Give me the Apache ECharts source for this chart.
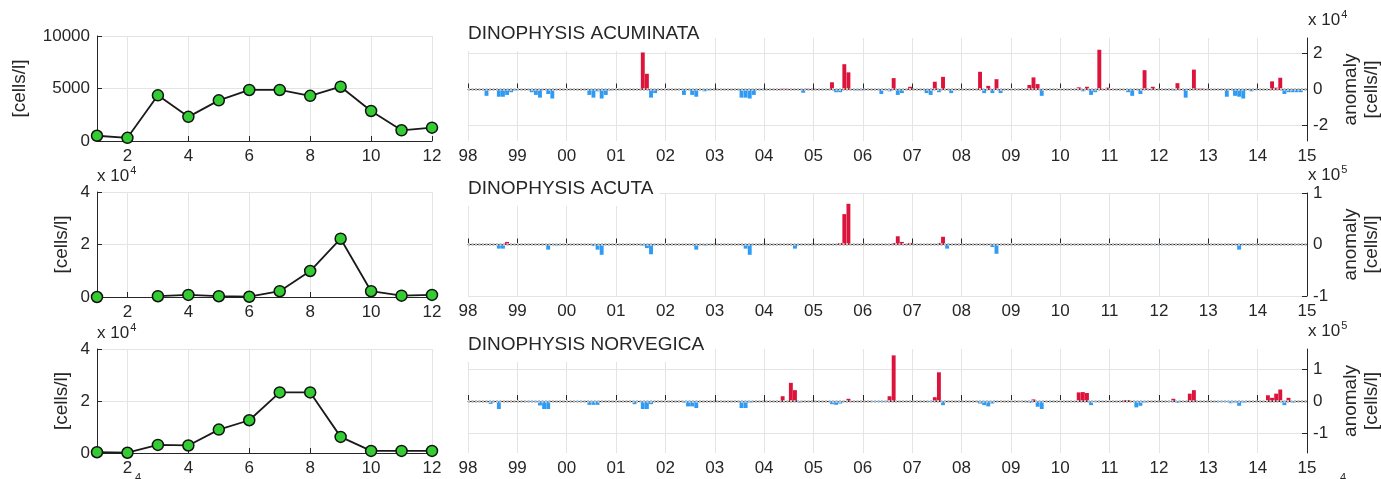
<!DOCTYPE html>
<html>
<head>
<meta charset="utf-8">
<title>Dinophysis climatology and anomalies</title>
<script src="https://cdn.jsdelivr.net/npm/echarts@6/dist/echarts.min.js"></script>
<style>
  html, body { margin: 0; padding: 0; background: #fff; }
  #chart { width: 1381px; height: 479px; }
</style>
</head>
<body>
<div id="chart"></div>
<script>
// ---- Data -------------------------------------------------------------
const MONTHS = ['1', '2', '3', '4', '5', '6', '7', '8', '9', '10', '11', '12'];
const SPECIES = ['DINOPHYSIS ACUMINATA', 'DINOPHYSIS ACUTA', 'DINOPHYSIS NORVEGICA'];
const FIRST_YEAR = 1998;
const LAST_YEAR = 2015;

// Monthly climatology [cells/l]
const climAcuminata = [500, 300, 4350, 2300, 3870, 4860, 4860, 4300, 5170, 2860, 1020, 1270];
const climAcuta = [0, '-', 300, 800, 300, 100, 2200, 9900, 22200, 2200, 500, 800];
const climNorvegica = [300, 100, 3100, 2900, 9000, 12600, 23300, 23300, 6200, 800, 800, 800];

// Monthly anomalies [cells/l], Jan 1998 .. Dec 2014, one row per year
const anomAcuminata = [
  0, 0, 0, 0, -3500, 0, 0, -4000, -4000, -3000, -1500, -500,
  0, 0, 0, -1500, -3000, -4500, 0, -2500, -5000, 0, 0, 0,
  0, 0, 0, 0, 0, -3000, -4500, -1000, -5000, -3000, -500, 0,
  0, 0, 0, 0, 0, 0, 20500, 8700, -4500, -2000, 0, 0,
  0, 0, 0, 0, -3000, 0, -3000, -4000, 0, -1000, -500, 0,
  0, 0, 0, 0, 0, 0, -4500, -4500, -5000, -3000, 0, 0,
  0, 0, 0, 0, 400, 400, 0, 0, 0, -1800, 400, 0,
  0, 0, 0, 0, 4000, -1500, -1500, 14000, 9500, 0, -500, -500,
  0, 0, 0, 0, -2500, 0, -1000, 6300, -3000, -2000, 0, 1500,
  0, 0, 0, -2000, -3000, 4300, -1500, 7000, 0, -2000, 0, 0,
  0, 0, 0, 0, 9800, -2000, 2000, -2000, 5700, -2000, 0, 0,
  0, -200, 0, 0, 2500, 6700, 3000, -3500, 0, 0, 0, 0,
  0, 0, 0, 0, 1200, -1000, 1500, -3000, -1500, 22000, 0, 1000,
  0, 0, 0, 0, -1500, -3500, 0, -2500, 10700, 0, 1500, 0,
  0, 0, 0, -500, 3500, 0, -4500, 0, 11000, 500, 500, 0,
  0, 0, 0, 0, -4000, 0, -3500, -4000, -5000, 0, -1000, 0,
  0, 0, 0, 4500, 1000, 6500, -2500, -1500, -1500, -1500, -1500, 0
];
const anomAcuta = [
  0, 0, 0, 0, 0, 0, 0, -8000, -8000, 5000, 0, 0,
  0, 0, 0, 0, 0, 0, 0, -10000, 0, -2000, 0, 0,
  0, 0, 0, 0, 0, 0, -3000, -10000, -20000, 0, 0, 0,
  0, 0, 0, 0, 0, 0, -2000, -7000, -19000, 0, 0, 0,
  0, 0, 0, 0, 0, 0, 0, -10000, 0, -2000, 0, 0,
  0, 0, 0, 0, 0, 0, 0, -8000, -20000, 0, 0, 0,
  0, 0, 0, 0, 0, 0, 0, -8000, 0, 0, 0, 0,
  0, 0, 0, 0, 0, 0, 3000, 59000, 79000, 0, 0, 0,
  0, 0, 0, 0, 0, 0, 0, 3000, 16000, 5000, 0, 3000,
  0, 0, 0, 0, 0, 0, 3000, 15000, -8000, 0, 0, 0,
  0, 0, 0, 0, 0, 0, 0, -5000, -18000, 0, 0, 0,
  0, 0, 0, 0, 0, 0, 0, 0, 0, 0, 0, 0,
  0, 0, 0, 0, 0, 0, 0, 0, 0, 0, -1000, 0,
  0, 0, 0, 0, 0, 0, 0, 0, 0, 0, -1000, 0,
  0, -1000, 0, 0, 0, 0, 0, 0, 0, 0, 0, 0,
  0, 0, 0, 0, 0, 0, 0, -10000, 0, 0, 0, -1000,
  0, 0, 0, 0, 0, 0, 0, 0, 0, -1000, 0, 0
];
const anomNorvegica = [
  0, 0, -2000, 0, 0, -9000, 0, -25000, 0, 0, 0, 0,
  0, 0, -2000, -3000, -4000, -14000, -25000, -25000, 0, 0, 0, 0,
  0, 0, -2000, -2000, 0, -12000, -12000, -12000, 0, 0, 0, 0,
  0, 0, 0, 0, -10000, 0, -25000, -25000, -10000, 0, 0, 0,
  0, 0, 0, 0, -5000, -17000, -17000, -22000, 0, 0, 0, 0,
  0, 0, 0, 0, 0, 0, -22000, -22000, -5000, 0, 0, 0,
  0, 0, 0, 0, 15000, 0, 57000, 34000, -5000, 0, 0, 0,
  0, 0, 0, 0, -10000, -12000, -8000, 0, 7000, 0, 0, 0,
  0, 0, -3000, -3000, -3000, -3000, 15000, 143000, 0, 0, 0, 0,
  0, 0, 0, 0, -3000, 12000, 90000, -13000, 0, 0, 0, 0,
  0, 0, 0, 0, -8000, -13000, -17000, -8000, 0, 0, 0, 0,
  0, 0, -2000, 0, -6000, 5000, -18000, -25000, 0, 0, 0, 0,
  0, 0, 0, 0, 27000, 28000, 25000, -13000, -3000, 0, 0, 0,
  0, 0, 0, 3000, 3000, 0, -20000, -15000, -5000, 0, 0, 0,
  0, 0, -3000, 7000, -6000, 0, 0, 23000, 34000, 0, 0, 0,
  0, 0, -3000, -3000, -3000, -7000, -5000, -15000, -5000, 0, 0, 0,
  0, 0, 18000, 10000, 23000, 36000, -13000, 10000, -5000, 0, 0, 0
];

// Axis settings per row
const climMax = [10000, 40000, 40000];
const climInterval = [5000, 20000, 20000];
const climDivisor = [1, 10000, 10000];
const anomRange = [28500, 100000, 163000];
const anomTicks = [[-20000, 0, 20000], [-100000, 0, 100000], [-100000, 0, 100000]];
const anomDivisor = [10000, 100000, 100000];
const anomExponent = ['4', '5', '5'];

// ---- Layout & style ----------------------------------------------------
const FONT = 'Liberation Sans, Arial, Helvetica, sans-serif';
const TXT = '#262626';
const GRIDC = '#e4e4e4';
const RED = '#dc143c';
const BLUE = '#2e9cf6';
const LEFT = { left: 97, width: 335 };
const RIGHT = { left: 468, width: 839 };
const ROWS = [
  { top: 36, height: 105, rtop: 38, rheight: 103 },
  { top: 192, height: 105, rtop: 193, rheight: 103 },
  { top: 349, height: 104, rtop: 349, rheight: 104 }
];

const clim = [climAcuminata, climAcuta, climNorvegica];
const anom = [anomAcuminata, anomAcuta, anomNorvegica];

const grids = [], xAxes = [], yAxes = [], series = [], titles = [], graphics = [];
const even = (idx) => idx % 2 === 1;

// "x 10^n" multiplier label
function powerLabel(x, y, exp) {
  return {
    type: 'text', x: x, y: y,
    style: {
      text: '{b|x 10}{s|' + exp + '}',
      fill: TXT, verticalAlign: 'bottom',
      rich: {
        b: { fontSize: 17, fontFamily: FONT, fill: TXT, lineHeight: 20, verticalAlign: 'bottom' },
        s: { fontSize: 11, fontFamily: FONT, fill: TXT, lineHeight: 11, verticalAlign: 'top', padding: [0, 0, 0, 1] }
      }
    }
  };
}

ROWS.forEach((r, i) => {
  // left: monthly climatology
  grids.push({ left: LEFT.left, width: LEFT.width, top: r.top, height: r.height });
  xAxes.push({
    type: 'category', gridIndex: i, data: MONTHS, boundaryGap: false,
    axisLine: { lineStyle: { color: TXT, width: 1 } },
    axisTick: { inside: true, length: 5, interval: even, lineStyle: { color: TXT } },
    axisLabel: { interval: even, color: TXT, fontSize: 17, fontFamily: FONT, margin: 7 },
    splitLine: { show: true, interval: even, lineStyle: { color: GRIDC } }
  });
  yAxes.push({
    type: 'value', gridIndex: i, min: 0, max: climMax[i], interval: climInterval[i],
    axisLine: { show: true, lineStyle: { color: TXT, width: 1 } },
    axisTick: { show: true, inside: true, length: 5, lineStyle: { color: TXT } },
    axisLabel: { color: TXT, fontSize: 17, fontFamily: FONT, margin: 7,
      formatter: (v) => String(v / climDivisor[i]) },
    splitLine: { show: true, lineStyle: { color: GRIDC } }
  });
  series.push({
    type: 'line', xAxisIndex: i, yAxisIndex: i, data: clim[i],
    connectNulls: false,
    lineStyle: { color: '#1a1a1a', width: 1.8 },
    symbol: 'circle', symbolSize: 11,
    itemStyle: { color: '#33cc33', borderColor: '#111', borderWidth: 1.5 },
    z: 3
  });
});

ROWS.forEach((r, i) => {
  // right: monthly anomalies
  const k = i + 3;
  grids.push({ left: RIGHT.left, width: RIGHT.width, top: r.rtop, height: r.rheight });
  xAxes.push({
    type: 'value', gridIndex: k, min: FIRST_YEAR, max: LAST_YEAR, interval: 1,
    axisLine: { lineStyle: { color: TXT, width: 1 } },
    axisTick: { inside: true, length: 6, lineStyle: { color: TXT } },
    axisLabel: { color: TXT, fontSize: 17, fontFamily: FONT, margin: 7,
      formatter: (v) => String(v % 100).padStart(2, '0') },
    splitLine: { show: true, lineStyle: { color: GRIDC } }
  });
  yAxes.push({
    type: 'value', gridIndex: k, position: 'right',
    min: -anomRange[i], max: anomRange[i],
    axisLine: { show: true, lineStyle: { color: TXT, width: 1 } },
    axisTick: { show: true, inside: true, length: 5, customValues: anomTicks[i],
      lineStyle: { color: TXT } },
    axisLabel: { color: TXT, fontSize: 17, fontFamily: FONT, margin: 6,
      customValues: anomTicks[i],
      formatter: (v) => String(Math.round(v / anomDivisor[i])) },
    splitLine: { show: true, lineStyle: { color: GRIDC } }
  });
  series.push({
    type: 'bar', xAxisIndex: k, yAxisIndex: k,
    data: anom[i].map((v, m) => [FIRST_YEAR + (m + 0.5) / 12, v]),
    barWidth: 3.9,
    itemStyle: { color: (p) => (p.value[1] >= 0 ? RED : BLUE) },
    markLine: {
      silent: true, symbol: 'none', label: { show: false },
      lineStyle: { color: '#c2c2c2', type: [2, 1.5], width: 3 },
      data: [{ yAxis: 0 }]
    }
  });

  titles.push({
    text: SPECIES[i], left: 467, top: r.rtop - 16,
    backgroundColor: '#fff', padding: [2, 6, 8, 1],
    textStyle: { color: TXT, fontSize: 19, fontWeight: 'normal', fontFamily: FONT }
  });

  // axis names
  const mid = r.rtop + r.rheight / 2;
  graphics.push({
    type: 'text', x: i === 0 ? 20 : 62, y: r.top + r.height / 2, rotation: Math.PI / 2,
    style: { text: '[cells/l]', fontSize: 19, fontFamily: FONT, fill: TXT,
      align: 'center', verticalAlign: 'middle' }
  });
  graphics.push({
    type: 'text', x: 1361, y: mid, rotation: Math.PI / 2,
    style: { text: 'anomaly\n[cells/l]', fontSize: 19, lineHeight: 21, fontFamily: FONT,
      fill: TXT, align: 'center', verticalAlign: 'middle' }
  });

  // multiplier labels
  graphics.push(powerLabel(1308, r.rtop - 9, anomExponent[i]));
  if (climDivisor[i] > 1) {
    graphics.push(powerLabel(97, r.top - 7, '4'));
  }
});

// exponents of the row below, cut by the bottom edge
graphics.push({
  type: 'text', x: 135, y: 472,
  style: { text: '4', fontSize: 11, fontFamily: FONT, fill: TXT, verticalAlign: 'top' }
});
graphics.push({
  type: 'text', x: 1340, y: 472,
  style: { text: '4', fontSize: 11, fontFamily: FONT, fill: TXT, verticalAlign: 'top' }
});

const chart = echarts.init(document.getElementById('chart'), null, { renderer: 'canvas' });
chart.setOption({
  animation: false,
  backgroundColor: '#fff',
  title: titles,
  grid: grids,
  xAxis: xAxes,
  yAxis: yAxes,
  series: series,
  graphic: graphics
});
</script>
</body>
</html>
